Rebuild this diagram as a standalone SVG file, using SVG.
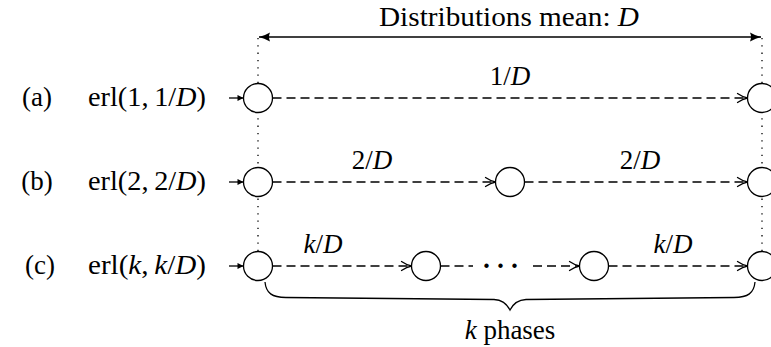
<svg xmlns="http://www.w3.org/2000/svg" width="771" height="347" viewBox="0 0 771 347">
<style>
text{font-family:"Liberation Serif","Times New Roman",serif;font-size:27px;fill:#000}
.i{font-style:italic}
.st{fill:#fff;stroke:#000;stroke-width:1.3}
.dash{fill:none;stroke:#000;stroke-width:1.3;stroke-dasharray:9 5}
.dot{fill:none;stroke:#000;stroke-width:1.3;stroke-dasharray:1.3 6}
.solid{fill:none;stroke:#000;stroke-width:1.3}
</style>
<defs>
<marker id="to" markerUnits="userSpaceOnUse" markerWidth="14" markerHeight="12" viewBox="-12 -6 14 12" refX="0" refY="0" orient="auto">
<path d="M-10,-4.5 C-6,-1.8 -2.5,-0.5 0,0 C-2.5,0.5 -6,1.8 -10,4.5" fill="none" stroke="#000" stroke-width="1.3" stroke-linecap="round"/>
</marker>
<marker id="big" markerUnits="userSpaceOnUse" markerWidth="14" markerHeight="12" viewBox="-12 -6 14 12" refX="0" refY="0" orient="auto-start-reverse">
<path d="M-11,-4.5 Q-5,-1 0,0 Q-5,1 -11,4.5 Q-9,0 -11,-4.5 Z" fill="#000"/>
</marker>
<marker id="small" markerUnits="userSpaceOnUse" markerWidth="8" markerHeight="8" viewBox="-7 -4 8 8" refX="0" refY="0" orient="auto">
<path d="M-6,-3 L0,0 L-6,3 Z" fill="#000"/>
</marker>
</defs>

<g id="guides">
<line class="dot" x1="258" y1="38" x2="258" y2="252"/>
<line class="dot" x1="762" y1="38" x2="762" y2="252"/>
</g>

<g id="connectors">
<line class="solid" x1="259" y1="37" x2="761" y2="37" marker-start="url(#big)" marker-end="url(#big)"/>
<line class="solid" x1="229" y1="98" x2="243.5" y2="98" marker-end="url(#small)"/>
<line class="solid" x1="229" y1="182" x2="243.5" y2="182" marker-end="url(#small)"/>
<line class="solid" x1="229" y1="266" x2="243.5" y2="266" marker-end="url(#small)"/>
<line class="dash" x1="272.5" y1="98" x2="747.5" y2="98" marker-end="url(#to)"/>
<line class="dash" x1="272.5" y1="182" x2="495.5" y2="182" marker-end="url(#to)"/>
<line class="dash" x1="524.5" y1="182" x2="747.5" y2="182" marker-end="url(#to)"/>
<line class="dash" x1="272.5" y1="266" x2="411.5" y2="266" marker-end="url(#to)"/>
<line class="dash" x1="440.5" y1="266" x2="473" y2="266"/>
<line class="dash" x1="533" y1="266" x2="579.5" y2="266" marker-end="url(#to)"/>
<line class="dash" x1="608.5" y1="266" x2="747.5" y2="266" marker-end="url(#to)"/>
<path class="solid" d="M265,282 C266,293 272,297.5 286,297.5 L494,299.5 C503,300 507,304 510,310 C513,304 517,300 526,299.5 L734,297.5 C748,297.5 754,293 755,282"/>
</g>

<g id="title"><text x="509" y="26" text-anchor="middle" textLength="260" lengthAdjust="spacingAndGlyphs">Distributions mean: <tspan class="i">D</tspan></text></g>

<g id="row-a">
<text x="37" y="106" text-anchor="middle">(a)</text>
<text x="206" y="106" text-anchor="end" textLength="118" lengthAdjust="spacingAndGlyphs">erl(1,&#8201;1/<tspan class="i">D</tspan>)</text>
<circle class="st" cx="258" cy="98" r="14.5"/>
<circle class="st" cx="762" cy="98" r="14.5"/>
<text x="510" y="85" text-anchor="middle">1/<tspan class="i">D</tspan></text>
</g>

<g id="row-b">
<text x="37" y="190" text-anchor="middle">(b)</text>
<text x="206" y="190" text-anchor="end" textLength="118" lengthAdjust="spacingAndGlyphs">erl(2,&#8201;2/<tspan class="i">D</tspan>)</text>
<circle class="st" cx="258" cy="182" r="14.5"/>
<circle class="st" cx="510" cy="182" r="14.5"/>
<circle class="st" cx="762" cy="182" r="14.5"/>
<text x="372" y="169" text-anchor="middle">2/<tspan class="i">D</tspan></text>
<text x="640" y="169" text-anchor="middle">2/<tspan class="i">D</tspan></text>
</g>

<g id="row-c">
<text x="40" y="274" text-anchor="middle">(c)</text>
<text x="206" y="274" text-anchor="end" textLength="118" lengthAdjust="spacingAndGlyphs">erl(<tspan class="i">k</tspan>,&#8201;<tspan class="i">k</tspan>/<tspan class="i">D</tspan>)</text>
<circle class="st" cx="258" cy="266" r="14.5"/>
<circle class="st" cx="426" cy="266" r="14.5"/>
<circle class="st" cx="594" cy="266" r="14.5"/>
<circle class="st" cx="762" cy="266" r="14.5"/>
<text x="323" y="253" text-anchor="middle"><tspan class="i">k</tspan>/<tspan class="i">D</tspan></text>
<text x="673" y="253" text-anchor="middle"><tspan class="i">k</tspan>/<tspan class="i">D</tspan></text>
<text x="503" y="275" text-anchor="middle" style="font-weight:bold;letter-spacing:5px">···</text>
</g>

<g id="brace-label"><text x="510" y="339" text-anchor="middle"><tspan class="i">k</tspan> phases</text></g>
</svg>
